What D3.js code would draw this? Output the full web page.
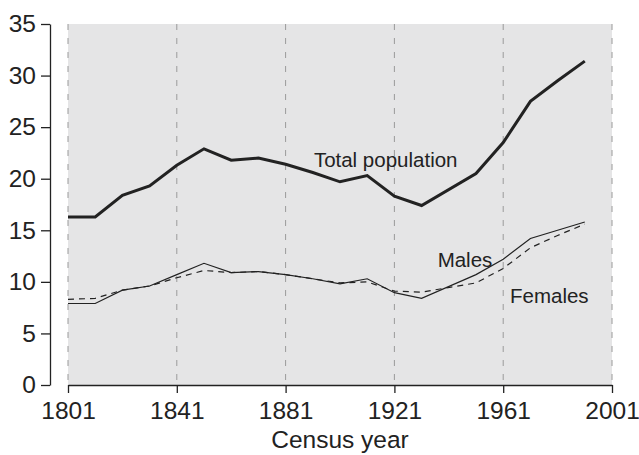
<!DOCTYPE html>
<html><head><meta charset="utf-8">
<script src="https://cdn.jsdelivr.net/npm/d3@7"></script>
<style>
body{margin:0;background:#fff;}
text{font-family:"Liberation Sans",Arial,sans-serif;fill:#222;}
</style></head>
<body><svg id="c" width="639" height="455"></svg>
<script>
const years   = [1801,1811,1821,1831,1841,1851,1861,1871,1881,1891,1901,1911,1921,1931,1951,1961,1971,1981,1991];
const total   = [16.3,16.3,18.4,19.3,21.3,22.9,21.8,22.0,21.4,20.6,19.7,20.3,18.3,17.4,20.5,23.5,27.5,29.5,31.4];
const males   = [7.9,7.9,9.2,9.6,10.7,11.8,10.9,11.0,10.7,10.3,9.8,10.3,8.95,8.4,10.7,12.2,14.2,15.0,15.8];
const females = [8.3,8.4,9.2,9.6,10.4,11.1,10.9,11.0,10.7,10.3,9.9,10.0,9.1,9.0,9.9,11.3,13.3,14.5,15.6];
const xTicks  = [1801,1841,1881,1921,1961,2001];
const yTicks  = [0,5,10,15,20,25,30,35];
const labels  = [{text:"Total population",year:1891.4,value:21.15},{text:"Males",year:1936.9,value:11.45},{text:"Females",year:1963.5,value:7.95}];

const svg = d3.select("#c");
const x = d3.scaleLinear().domain([1801,2001]).range([68,612]);
const y = d3.scaleLinear().domain([0,35]).range([385,24]);

svg.append("rect").attr("x",x(1801)).attr("y",y(35)).attr("width",x(2001)-x(1801)).attr("height",y(0)-y(35)).attr("fill","#e5e5e6");

svg.selectAll(".grid").data(xTicks).join("line")
  .attr("x1",d=>x(d)).attr("x2",d=>x(d)).attr("y1",y(35)).attr("y2",y(0))
  .attr("stroke","#9a9a9a").attr("stroke-width",1).attr("stroke-dasharray","6,8");

const xa = svg.append("g").attr("transform",`translate(0,${y(0)})`)
  .call(d3.axisBottom(x).tickValues(xTicks).tickFormat(d3.format("d")).tickSize(8).tickSizeOuter(0).tickPadding(9));
const ya = svg.append("g").attr("transform",`translate(50,0)`)
  .call(d3.axisLeft(y).tickValues(yTicks).tickSize(9).tickSizeOuter(0).tickPadding(5));
[xa,ya].forEach(g=>{
  g.selectAll("path,line").attr("stroke","#222").attr("stroke-width",1.3);
  g.selectAll("text").attr("font-size",24.5).attr("font-family","Liberation Sans, Arial, sans-serif").attr("fill","#222");
});

const line = s => d3.line().x((d,i)=>x(years[i])).y(d=>y(d))(s);
svg.append("path").attr("d",line(females)).attr("fill","none").attr("stroke","#222").attr("stroke-width",1.2).attr("stroke-dasharray","6,5");
svg.append("path").attr("d",line(males)).attr("fill","none").attr("stroke","#222").attr("stroke-width",1.2);
svg.append("path").attr("d",line(total)).attr("fill","none").attr("stroke","#222").attr("stroke-width",3);

svg.selectAll(".lab").data(labels).join("text")
  .attr("x",d=>x(d.year)).attr("y",d=>y(d.value)).attr("font-size",20.5).text(d=>d.text);

svg.append("text").attr("x",340).attr("y",448).attr("text-anchor","middle").attr("font-size",24.5).text("Census year");
</script></body></html>
